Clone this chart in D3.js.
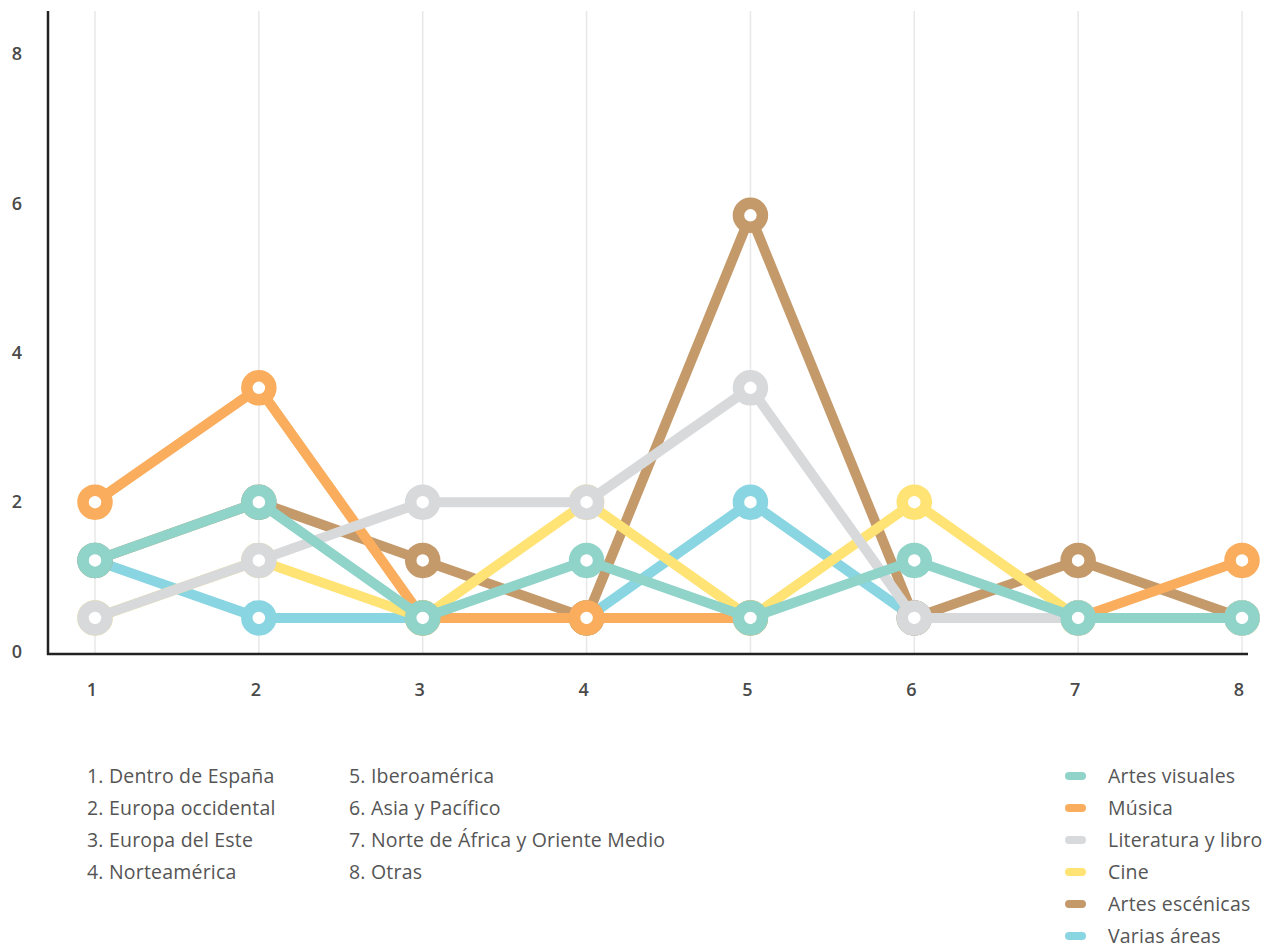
<!DOCTYPE html>
<html>
<head>
<meta charset="utf-8">
<script src="https://cdn.jsdelivr.net/npm/d3@7"></script>
<style>
  html, body { margin: 0; padding: 0; background: #fff; }
  svg { display: block; font-family: "Open Sans", "Liberation Sans", sans-serif; }
</style>
</head>
<body>
<svg id="chart" width="1274" height="948"></svg>
<script>
// ---- data ----
const categories = [1, 2, 3, 4, 5, 6, 7, 8];
const categoryNames = [
  "1. Dentro de España", "2. Europa occidental", "3. Europa del Este", "4. Norteamérica",
  "5. Iberoamérica", "6. Asia y Pacífico", "7. Norte de África y Oriente Medio", "8. Otras"
];
const yTicks = [0, 2, 4, 6, 8];
const seriesNames = ["Artes visuales", "Música", "Literatura y libro", "Cine", "Artes escénicas", "Varias áreas"];
const seriesColors = ["#8fd3c9", "#f9ad5d", "#d8d9db", "#ffe375", "#c49a6b", "#89d5e2"];
const artesVisuales  = [1.22, 2,    0.45, 1.22, 0.45, 1.22, 0.45, 0.45];
const musica         = [2,    3.53, 0.45, 0.45, 0.45, null, 0.45, 1.22];
const literatura     = [0.45, 1.22, 2,    2,    3.53, 0.45, 0.45, 0.45];
const cine           = [0.45, 1.22, 0.45, 2,    0.45, 2,    0.45, 0.45];
const artesEscenicas = [1.22, 2,    1.22, 0.45, 5.84, 0.45, 1.22, 0.45];
const variasAreas    = [1.22, 0.45, 0.45, 0.45, 2,    0.45, 0.45, 0.45];
const seriesValues = [artesVisuales, musica, literatura, cine, artesEscenicas, variasAreas];
// drawing order, bottom to top (indices into the series lists)
const drawOrder = [5, 4, 3, 1, 2, 0];

// ---- layout ----
const svg = d3.select("#chart");
const x = d3.scalePoint().domain(categories).range([95, 1242]);
const y = d3.scaleLinear().domain([0, 8]).range([651.5, 54]);
const plotTop = 11, plotBottom = 654, axisX = 48, axisRight = 1248;

// gridlines
svg.append("g").selectAll("line").data(categories).join("line")
  .attr("x1", d => x(d)).attr("x2", d => x(d))
  .attr("y1", plotTop).attr("y2", plotBottom)
  .attr("stroke", "#e8e8e8").attr("stroke-width", 1.5);

// y labels
svg.append("g").selectAll("text").data(yTicks).join("text")
  .attr("x", 17).attr("y", d => y(d)).attr("dy", "0.35em")
  .attr("text-anchor", "middle").attr("font-size", 18).attr("font-weight", 600).attr("fill", "#4a4a4a")
  .text(d => d);

// x labels
svg.append("g").selectAll("text").data(categories).join("text")
  .attr("x", d => x(d) - 3).attr("y", 690).attr("dy", "0.35em")
  .attr("text-anchor", "middle").attr("font-size", 18).attr("font-weight", 600).attr("fill", "#4a4a4a")
  .text(d => d);

// series
const line = d3.line()
  .defined(d => d.v !== null)
  .x(d => x(d.c)).y(d => y(d.v));

drawOrder.forEach(i => {
  const pts = categories.map((c, k) => ({ c, v: seriesValues[i][k] }));
  const g = svg.append("g");
  g.append("path").datum(pts)
    .attr("d", line).attr("fill", "none")
    .attr("stroke", seriesColors[i]).attr("stroke-width", 10)
    .attr("stroke-linejoin", "round");
  g.selectAll("circle").data(pts.filter(d => d.v !== null)).join("circle")
    .attr("cx", d => x(d.c)).attr("cy", d => y(d.v))
    .attr("r", 12).attr("fill", "#fff")
    .attr("stroke", seriesColors[i]).attr("stroke-width", 11.5);
});

// axes lines
svg.append("line").attr("x1", axisX).attr("x2", axisX).attr("y1", plotTop).attr("y2", plotBottom + 1)
  .attr("stroke", "#222").attr("stroke-width", 2.5);
svg.append("line").attr("x1", axisX - 1).attr("x2", axisRight).attr("y1", plotBottom).attr("y2", plotBottom)
  .attr("stroke", "#222").attr("stroke-width", 2.5);

// category legend
const catLeg = svg.append("g");
catLeg.selectAll("text").data(categoryNames).join("text")
  .attr("x", (d, i) => i < 4 ? 87 : 349)
  .attr("y", (d, i) => 776 + (i % 4) * 32).attr("dy", "0.35em")
  .attr("font-size", 19.5).attr("letter-spacing", 0.2).attr("fill", "#555")
  .text(d => d);

// series legend
const serLeg = svg.append("g").selectAll("g").data(seriesNames).join("g")
  .attr("transform", (d, i) => `translate(0, ${776 + i * 32})`);
serLeg.append("line")
  .attr("x1", 1069).attr("x2", 1082).attr("y1", 0).attr("y2", 0)
  .attr("stroke", (d, i) => seriesColors[i]).attr("stroke-width", 8)
  .attr("stroke-linecap", "round");
serLeg.append("text")
  .attr("x", 1108).attr("y", 0).attr("dy", "0.35em")
  .attr("font-size", 19.5).attr("letter-spacing", 0.2).attr("fill", "#555")
  .text(d => d);
</script>
</body>
</html>
